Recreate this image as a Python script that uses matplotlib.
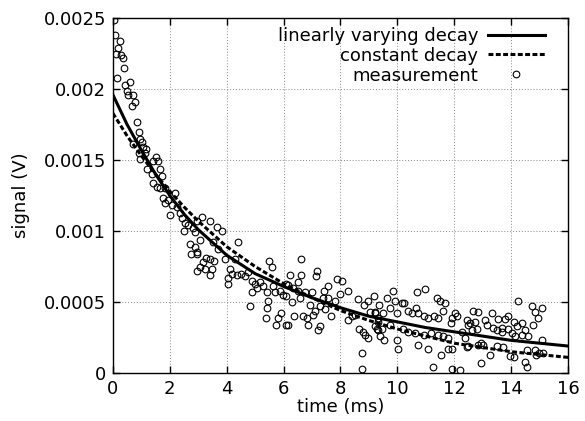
import numpy as np
import matplotlib
matplotlib.use("Agg")
import matplotlib.pyplot as plt

# =========================
# Data
# =========================
fit_t = [0, 0.5, 1, 1.5, 2, 2.5, 3, 3.5, 4, 5, 6, 7, 8, 9, 10, 11, 12, 13, 14, 15, 16]
linear_decay = [0.00196, 0.00175, 0.00157, 0.00140, 0.00125, 0.00112, 0.00101, 0.00092,
                0.00083, 0.00070, 0.00061, 0.00053, 0.00046, 0.00040, 0.00036, 0.00032,
                0.00029, 0.00026, 0.00023, 0.00021, 0.00019]
constant_decay = [0.00183, 0.00167, 0.00153, 0.00140, 0.00128, 0.00117, 0.00107, 0.00098,
                  0.00089, 0.00075, 0.00063, 0.00053, 0.00044, 0.00037, 0.00031, 0.00026,
                  0.00021, 0.00018, 0.00015, 0.00013, 0.00011]

meas_t = [0.04, 0.07, 0.25, 0.18, 0.10, 0.30, 0.35, 0.39, 0.15, 0.42, 0.60, 0.49, 0.54, 0.69,
          0.77, 0.66, 0.83, 0.90, 0.97, 1.02, 0.70, 1.06, 1.18, 0.92, 1.13, 0.97, 1.50, 1.59,
          1.41, 1.65, 1.20, 1.71, 1.36, 1.41, 1.54, 1.65, 1.83, 2.18, 1.76, 1.93, 1.83, 2.06,
          2.00, 2.24, 2.36, 2.42, 2.53, 2.64, 2.82, 2.50, 2.88, 2.71, 2.88, 2.74, 2.95,
          3.12, 2.94, 3.41, 3.65, 3.84, 3.06, 3.52, 4.40, 2.94, 3.69, 3.94, 3.29, 3.41, 3.56,
          3.18, 4.29, 3.06, 2.94, 3.23, 3.47, 3.41, 5.49, 5.58, 4.11, 4.17, 4.35, 4.52, 4.64,
          4.76, 4.03, 4.06, 4.88, 4.99, 5.17, 5.29, 5.05, 4.88, 5.40, 5.64, 5.70, 5.87, 5.99,
          6.10, 5.44, 4.82, 5.40, 5.37, 5.91, 5.81, 5.73, 6.10,
          6.63, 6.22, 6.61, 7.16, 7.13, 6.49, 6.17, 6.34, 6.52, 6.75, 6.99, 7.57, 7.43, 7.87,
          8.06, 7.98, 8.27, 6.10, 6.28, 6.58, 7.40, 7.57, 7.81, 6.93, 7.10, 7.28, 7.45, 7.04,
          7.67, 6.38, 6.69, 6.81, 6.14, 6.85, 7.28, 7.22, 8.63, 8.98, 9.19, 8.84, 8.27, 8.39,
          8.51, 9.04, 9.21, 8.65, 8.80, 8.86, 8.96, 8.74, 8.77, 9.31, 9.27,
          10.97, 10.68, 9.86, 9.62, 9.92, 10.15, 10.24, 9.35, 9.74, 10.64, 11.38, 11.50, 11.67,
          11.61, 9.21, 9.50, 9.97, 10.38, 10.50, 10.71, 10.95, 11.09, 11.30, 11.44, 12.03,
          12.08, 11.93, 11.88, 12.47, 9.33, 9.45, 9.31, 9.39, 9.54, 9.74, 10.21, 10.38, 10.62,
          10.95, 11.18, 11.44, 11.61, 11.79, 12.26, 12.38, 9.97, 10.01, 10.74, 11.09, 11.77,
          11.93, 12.47, 11.53, 11.26, 11.91, 12.20, 9.21,
          14.23, 14.72, 15.07, 14.84, 14.93, 14.78, 12.67, 12.84, 13.31, 13.90, 13.08, 13.53,
          13.78, 14.11, 14.39, 12.44, 12.73, 12.55, 13.14, 13.37, 13.67, 13.49, 13.90, 14.19,
          14.49, 12.61, 12.79, 13.69, 14.02, 14.37, 14.13, 14.60, 15.10, 12.44, 12.84, 13.02,
          12.94, 13.49, 13.72, 13.26, 13.96, 14.11, 14.55, 14.84, 14.98, 15.13, 14.89, 14.49,
          14.55, 12.94]
meas_v = [0.00249, 0.00238, 0.00234, 0.00229, 0.00225, 0.00224, 0.00222, 0.00215, 0.00208,
          0.00203, 0.00205, 0.00199, 0.00196, 0.00196, 0.00191, 0.00188, 0.00177, 0.00170,
          0.00165, 0.00163, 0.00161, 0.00159, 0.00158, 0.00155, 0.00155, 0.00151, 0.00152,
          0.00149, 0.00149, 0.00144, 0.00144, 0.00139, 0.00140, 0.00134, 0.00131, 0.00130,
          0.00130, 0.00127, 0.00123, 0.00122, 0.00120, 0.00118, 0.00111, 0.00117, 0.00113,
          0.00109, 0.00106, 0.00104, 0.00102, 0.00100, 0.00099, 0.00091, 0.00089, 0.00084,
          0.00084,
          0.00110, 0.00107, 0.00107, 0.00103, 0.00100, 0.00094, 0.00092, 0.00092, 0.00085,
          0.00087, 0.00080, 0.00081, 0.00080, 0.00079, 0.00078, 0.00080, 0.00075, 0.00072,
          0.00073, 0.00073, 0.00069, 0.00079, 0.00075, 0.00073, 0.00070, 0.00069, 0.00070,
          0.00068, 0.00071, 0.00067, 0.00063, 0.00065, 0.00063, 0.00064, 0.00061, 0.00060,
          0.00057, 0.00057, 0.00061, 0.00057, 0.00058, 0.00055, 0.00063, 0.00051, 0.00047,
          0.00046, 0.00039, 0.00042, 0.00039, 0.00034, 0.00034,
          0.00080, 0.00069, 0.00069, 0.00072, 0.00068, 0.00064, 0.00062, 0.00060, 0.00058,
          0.00057, 0.00057, 0.00061, 0.00058, 0.00066, 0.00065, 0.00056, 0.00058, 0.00054,
          0.00050, 0.00053, 0.00053, 0.00053, 0.00051, 0.00048, 0.00044, 0.00047, 0.00045,
          0.00041, 0.00040, 0.00040, 0.00040, 0.00039, 0.00034, 0.00034, 0.00033, 0.00030,
          0.00052, 0.00051, 0.00054, 0.00048, 0.00037, 0.00040, 0.00041, 0.00043, 0.00042,
          0.00031, 0.00029, 0.00027, 0.00025, 0.00014, 0.00003, 0.00039, 0.00031,
          0.00059, 0.00057, 0.00058, 0.00053, 0.00051, 0.00049, 0.00049, 0.00048, 0.00046,
          0.00046, 0.00053, 0.00051, 0.00049, 0.00044, 0.00043, 0.00042, 0.00042, 0.00044,
          0.00042, 0.00042, 0.00040, 0.00039, 0.00040, 0.00039, 0.00042, 0.00040, 0.00039,
          0.00035, 0.00034, 0.00036, 0.00031, 0.00030, 0.00026, 0.00023, 0.00034, 0.00031,
          0.00029, 0.00028, 0.00027, 0.00028, 0.00027, 0.00026, 0.00025, 0.00029, 0.00025,
          0.00023, 0.00017, 0.00020, 0.00017, 0.00017, 0.00017, 0.00019, 0.00013, 0.00004,
          0.00003, 0.00002, 0.00033,
          0.00051, 0.00047, 0.00046, 0.00043, 0.00039, 0.00034, 0.00044, 0.00043, 0.00042,
          0.00040, 0.00037, 0.00038, 0.00038, 0.00036, 0.00035, 0.00037, 0.00036, 0.00035,
          0.00034, 0.00032, 0.00032, 0.00030, 0.00031, 0.00033, 0.00030, 0.00030, 0.00031,
          0.00029, 0.00028, 0.00027, 0.00026, 0.00026, 0.00023, 0.00018, 0.00020, 0.00020,
          0.00021, 0.00019, 0.00018, 0.00013, 0.00012, 0.00011, 0.00016, 0.00016, 0.00014,
          0.00014, 0.00013, 0.00008, 0.00004, 0.00007]

x_ticks = [0, 2, 4, 6, 8, 10, 12, 14, 16]
y_ticks = [0, 0.0005, 0.001, 0.0015, 0.002, 0.0025]
y_tick_labels = ["0", "0.0005", "0.001", "0.0015", "0.002", "0.0025"]

# =========================
# Plot style
# =========================
plt.rcParams["font.family"] = ["DejaVu Sans"]
fontsize = 13

fig = plt.figure(figsize=(5.85, 4.21), dpi=100)
ax = fig.add_axes([0.193, 0.114, 0.778, 0.843])

ax.plot(fit_t, linear_decay, color="black", linewidth=2.2, label="linearly varying decay",
        zorder=3)
ax.plot(fit_t, constant_decay, color="black", linewidth=2.2, linestyle=(0, (1.6, 0.8)),
        label="constant decay", zorder=3)
ax.plot(meas_t, meas_v, linestyle="none", marker="o", markersize=4.8, markerfacecolor="none",
        markeredgecolor="black", markeredgewidth=0.8, label="measurement", zorder=4)

ax.set_xlim(0, 16)
ax.set_ylim(0, 0.0025)
ax.set_xticks(x_ticks)
ax.set_yticks(y_ticks)
ax.set_yticklabels(y_tick_labels)
ax.tick_params(axis="both", direction="in", length=5, width=1, labelsize=fontsize,
               top=True, right=True, pad=5)
ax.grid(True, color="#888888", linestyle=(0, (1, 2)), linewidth=0.7)
for s in ax.spines.values():
    s.set_linewidth(1.0)

ax.set_xlabel("time (ms)", fontsize=fontsize, labelpad=0)
ax.set_ylabel("signal (V)", fontsize=fontsize, labelpad=10)

ax.legend(loc="upper right", bbox_to_anchor=(0.95, 0.975), frameon=False, markerfirst=False,
          fontsize=fontsize, handlelength=3.2, handletextpad=0.5, labelspacing=0.1,
          borderpad=0, borderaxespad=0)

fig.savefig("out.png", dpi=100)
